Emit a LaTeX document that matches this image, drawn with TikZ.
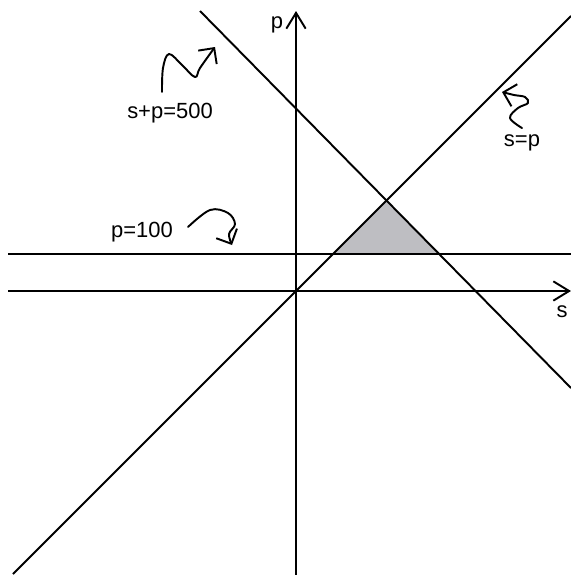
\documentclass[tikz,border=0pt]{standalone}
\usepackage{fontspec}
\setmainfont{Liberation Sans}
\usetikzlibrary{arrows.meta}

\begin{document}
\begin{tikzpicture}[
    x=0.02cm, y=-0.02cm,
    line width=1.1pt,
    axis/.style={-{Straight Barb[length=9pt,width=11pt]}},
    hint/.style={-{Straight Barb[length=6.5pt,width=13pt]}, line cap=round, line join=round},
    lbl/.style={font=\fontsize{12.5pt}{15pt}\selectfont, anchor=base, inner sep=0pt}
]
\definecolor{region}{RGB}{190,190,194}
\useasboundingbox (0,0) rectangle (571,575);

% axes
\coordinate (O) at (296,291);
\coordinate (sW) at (8,291);
\coordinate (sE) at (571,291);
\coordinate (pS) at (296,575);
\coordinate (pN) at (296,11);

% constraint lines
\coordinate (hW) at (8,254);
\coordinate (hE) at (571,254);
\coordinate (dSW) at (13,574);
\coordinate (dNE) at (571,16);
\coordinate (aNW) at (200,11);
\coordinate (aSE) at (571,388);

% feasible region
\coordinate (A) at (intersection of hW--hE and dSW--dNE);
\coordinate (B) at (intersection of dSW--dNE and aNW--aSE);
\coordinate (C) at (intersection of hW--hE and aNW--aSE);
\fill[region] (A) -- (B) -- (C) -- cycle;

\draw (hW) -- (hE);
\draw (dSW) -- (dNE);
\draw (aNW) -- (aSE);
\draw[axis] (sW) -- (sE);
\draw[axis] (pS) -- (pN);

\node[lbl] (plbl) at (277,28) {p};
\node[lbl] (slbl) at (562,317) {s};
\node[lbl] (sum) at (170,118) {s+p=500};
\node[lbl] (low) at (142,237) {p=100};
\node[lbl] (diag) at (522,146) {s=p};

% hand drawn pointers
\draw[hint] plot[smooth, tension=0.6] coordinates {(162,92) (163,68) (169,54) (182,65) (195,77) (200,68) (215,47)};
\draw[hint] plot[smooth, tension=0.6] coordinates {(522,128) (510,118) (518,108) (528,103) (525,97) (514,95) (502,92)};
\draw[hint] plot[smooth, tension=0.6] coordinates {(188,227) (210,210) (228,213) (235,224) (229,234) (232,245)};

\end{tikzpicture}
\end{document}
